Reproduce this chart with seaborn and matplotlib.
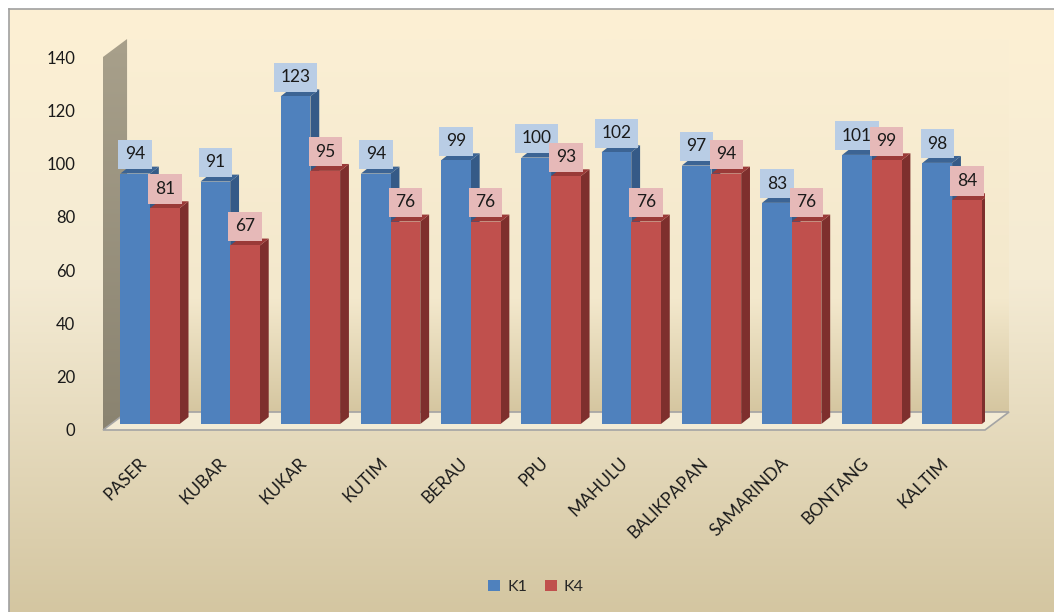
"""
Grafik batang K1 / K4 per kabupaten/kota Kaltim (gaya Excel 3D)
"""
import matplotlib
matplotlib.use('Agg')
import numpy as np
import pandas as pd
import seaborn as sns
import matplotlib.pyplot as plt
from matplotlib.patches import Polygon
from matplotlib.colors import LinearSegmentedColormap
from matplotlib.transforms import ScaledTranslation

# data
WILAYAH = ['PASER', 'KUBAR', 'KUKAR', 'KUTIM', 'BERAU', 'PPU', 'MAHULU',
           'BALIKPAPAN', 'SAMARINDA', 'BONTANG', 'KALTIM']
K1 = [94, 91, 123, 94, 99, 100, 102, 97, 83, 101, 98]
K4 = [81, 67, 95, 76, 76, 93, 76, 94, 76, 99, 84]
SERI = ['K1', 'K4']
Y_TICKS = [0, 20, 40, 60, 80, 100, 120, 140]

# warna
BLUE, BLUE_SIDE, BLUE_TOP, BLUE_LBL = '#4f81bd', '#355a87', '#3c6494', '#b9cde5'
RED, RED_SIDE, RED_TOP, RED_LBL = '#c0504d', '#7e2f2d', '#9a3a38', '#e6b9b8'

sns.set_theme(style='white')
plt.rcParams['font.family'] = ['Lato', 'DejaVu Sans']

df = pd.DataFrame({
    'wilayah': WILAYAH * 2,
    'nilai': K1 + K4,
    'seri': ['K1'] * len(WILAYAH) + ['K4'] * len(WILAYAH),
})

W, H = 1054, 612
fig = plt.figure(figsize=(W / 100, H / 100), dpi=100, facecolor='white')

# latar belakang bergradasi
bg = fig.add_axes([9 / W, 0, 1 - 9 / W, 1 - 9 / H], zorder=-10)
bg_cmap = LinearSegmentedColormap.from_list(
    'bg', [(0, '#fdf0d3'), (0.45, '#f4ebd4'), (1, '#d4c6a1')])
bg.imshow(np.linspace(0, 1, 256).reshape(-1, 1), aspect='auto', cmap=bg_cmap,
          extent=[0, 1, 1, 0])
bg.set_xlim(0, 1)
bg.set_ylim(1, 0)
bg.set_xticks([])
bg.set_yticks([])
for s in ['right', 'bottom']:
    bg.spines[s].set_visible(False)
for s in ['left', 'top']:
    bg.spines[s].set_color('#a0a0a0')
    bg.spines[s].set_linewidth(1.2)

ax = fig.add_axes([103 / W, (H - 424) / H, 882 / W, 373 / H])
ax.set_facecolor('none')

sns.barplot(data=df, x='wilayah', y='nilai', hue='seri', palette=[BLUE, RED],
            width=0.74, saturation=1, edgecolor='none', linewidth=0, ax=ax)

x0, x1 = -0.586, 10.41

# dinding & lantai semu 3D
wdx, wdy = 0.30, 6.75   # kedalaman dinding
base = -2.25            # tepi depan lantai
wall_cmap = LinearSegmentedColormap.from_list(
    'wall', [(0, '#fbefd4'), (0.7, '#f3e8cc'), (1, '#d5c6a0')])
ax.imshow(np.linspace(0, 1, 256).reshape(-1, 1), aspect='auto',
          cmap=wall_cmap, extent=[x0 + wdx, x1 + wdx, base + wdy, 140 + base + wdy],
          origin='upper', zorder=0.2, clip_on=False)

left_wall = Polygon([(x0, base), (x0 + wdx, base + wdy), (x0 + wdx, 140 + base + wdy),
                     (x0, 140 + base)], closed=True, facecolor='none', edgecolor='none',
                    clip_on=False, zorder=0.4)
ax.add_patch(left_wall)
lw_cmap = LinearSegmentedColormap.from_list('lw', ['#a8a08b', '#8a8370'])
lw_img = ax.imshow(np.linspace(0, 1, 256).reshape(-1, 1), aspect='auto', cmap=lw_cmap,
                   extent=[x0, x0 + wdx, base, 140 + base + wdy], origin='upper',
                   zorder=0.4)
lw_img.set_clip_path(left_wall)
lw_img.set_clip_box(fig.bbox)

floor = Polygon([(x0, base), (x1, base), (x1 + wdx, base + wdy), (x0 + wdx, base + wdy)],
                closed=True, facecolor='#f3ebd5', edgecolor='#a4a4a4', linewidth=1.2,
                clip_on=False, zorder=0.5)
ax.add_patch(floor)

ax.set_xlim(x0, x1)
ax.set_ylim(0, 140)

# sisi dan atap batang
bdx, bdy = 0.11, 2.6
faces = [(BLUE_SIDE, BLUE_TOP), (RED_SIDE, RED_TOP)]
for i, cont in enumerate(ax.containers):
    side_c, top_c = faces[i]
    for p in cont.patches:
        bx, bw, bh = p.get_x(), p.get_width(), p.get_height()
        p.set_zorder(2.1 + i * 0.2)
        ax.add_patch(Polygon([(bx + bw, 0), (bx + bw + bdx, bdy), (bx + bw + bdx, bh + bdy),
                              (bx + bw, bh)], closed=True, facecolor=side_c,
                             edgecolor='none', zorder=2.0 + i * 0.2))
        ax.add_patch(Polygon([(bx, bh), (bx + bdx, bh + bdy), (bx + bw + bdx, bh + bdy),
                              (bx + bw, bh)], closed=True, facecolor=top_c,
                             edgecolor='none', zorder=2.0 + i * 0.2))

# label nilai
for i, (cont, lc) in enumerate(zip(ax.containers, [BLUE_LBL, RED_LBL])):
    labels = ax.bar_label(cont, padding=8, fontsize=12.5, color='#1a1a1a',
                          bbox=dict(boxstyle='square,pad=0.38', facecolor=lc,
                                    edgecolor='none'))
    for t in labels:
        t.set_zorder(5 + i)

# sumbu
ax.set_yticks(Y_TICKS)
ax.set_xlabel('')
ax.set_ylabel('')
ax.tick_params(axis='y', length=0, pad=20, labelsize=12, labelcolor='#1a1a1a')
ax.tick_params(axis='x', length=0, pad=26, labelsize=12.5, labelcolor='#1a1a1a')
for lbl in ax.get_yticklabels():
    lbl.set_transform(lbl.get_transform() + ScaledTranslation(0, -0.06, fig.dpi_scale_trans))
for lbl in ax.get_xticklabels():
    lbl.set_rotation(45)
    lbl.set_ha('right')
    lbl.set_va('center')
    lbl.set_rotation_mode('anchor')
    lbl.set_transform(lbl.get_transform() + ScaledTranslation(-0.06, 0, fig.dpi_scale_trans))
sns.despine(ax=ax, left=True, bottom=True)

sns.move_legend(ax, 'center', bbox_to_anchor=(536 / W, 1 - 587 / H),
                bbox_transform=fig.transFigure, ncol=2, frameon=False, title=None,
                fontsize=11.5, handlelength=0.75, handleheight=0.75,
                handletextpad=0.45, columnspacing=1.1)

fig.savefig('out.png', dpi=100)
